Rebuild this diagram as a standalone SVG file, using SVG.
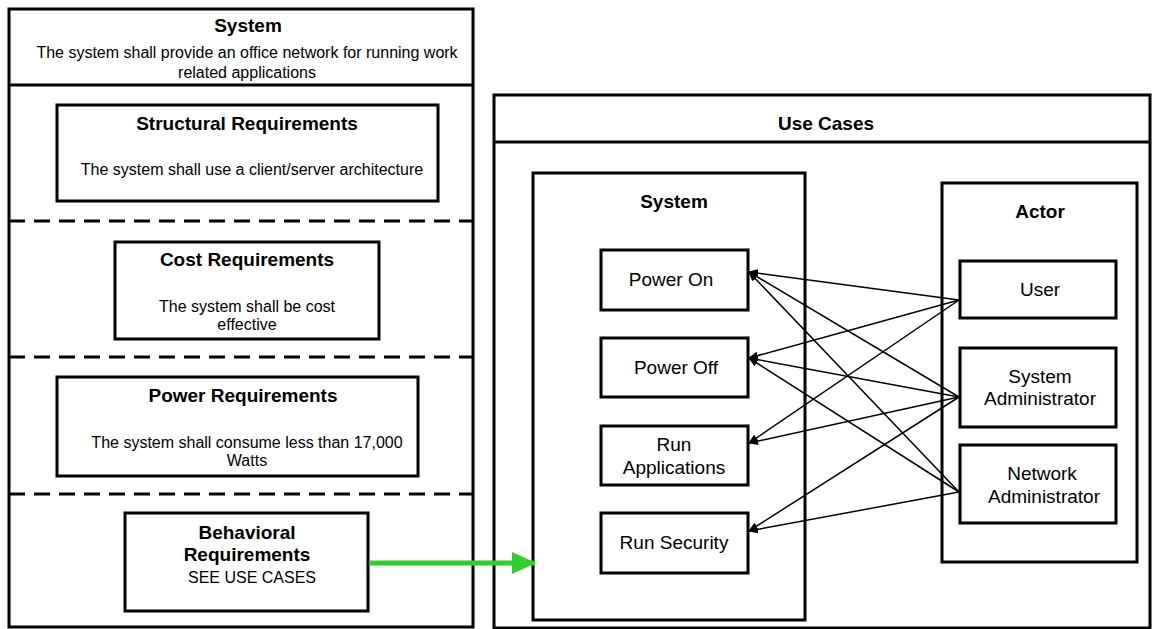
<svg xmlns="http://www.w3.org/2000/svg" width="1154" height="629" viewBox="0 0 1154 629">
<style>
.box{fill:#fff;stroke:#000;stroke-width:3}
.dash{stroke:#000;stroke-width:3;stroke-dasharray:16 9;fill:none}
.t{font-family:"Liberation Sans",Arial,sans-serif;font-weight:bold;font-size:19px;text-anchor:middle;fill:#000}
.b{font-family:"Liberation Sans",Arial,sans-serif;font-size:16px;text-anchor:middle;fill:#000}
.u{font-family:"Liberation Sans",Arial,sans-serif;font-size:19px;text-anchor:middle;fill:#000}
.c{stroke:#000;stroke-width:1.5;fill:none;marker-end:url(#ah)}
</style>
<defs>
<marker id="ah" markerWidth="10" markerHeight="8" refX="9" refY="4" orient="auto" markerUnits="userSpaceOnUse">
<path d="M0,0 L10,4 L0,8 z" fill="#000"/>
</marker>
<marker id="gh" markerWidth="24" markerHeight="22" refX="23" refY="11" orient="auto" markerUnits="userSpaceOnUse">
<path d="M0,0 L24,11 L0,22 z" fill="#33cc33"/>
</marker>
</defs>
<rect width="1154" height="629" fill="#fff"/>

<g id="left-panel">
<rect class="box" x="9" y="9" width="464" height="618"/>
<line x1="9" y1="85" x2="473" y2="85" stroke="#000" stroke-width="3"/>
<text class="t" x="248" y="32">System</text>
<text class="b" x="247" y="58">The system shall provide an office network for running work</text>
<text class="b" x="247" y="78">related applications</text>
<line class="dash" x1="9" y1="221" x2="473" y2="221"/>
<line class="dash" x1="9" y1="357" x2="473" y2="357"/>
<line class="dash" x1="9" y1="494" x2="473" y2="494"/>
</g>

<g id="structural">
<rect class="box" x="57" y="105" width="381" height="96"/>
<text class="t" x="247" y="130">Structural Requirements</text>
<text class="b" x="252" y="175">The system shall use a client/server architecture</text>
</g>

<g id="cost">
<rect class="box" x="115" y="242" width="264" height="97"/>
<text class="t" x="247" y="266">Cost Requirements</text>
<text class="b" x="247" y="312">The system shall be cost</text>
<text class="b" x="247" y="330">effective</text>
</g>

<g id="power">
<rect class="box" x="57" y="377" width="361" height="99"/>
<text class="t" x="243" y="402">Power Requirements</text>
<text class="b" x="247" y="448">The system shall consume less than 17,000</text>
<text class="b" x="247" y="466">Watts</text>
</g>

<g id="behavioral">
<rect class="box" x="125" y="513" width="243" height="98"/>
<text class="t" x="247" y="539">Behavioral</text>
<text class="t" x="247" y="561">Requirements</text>
<text class="b" x="252" y="583">SEE USE CASES</text>
</g>

<g id="use-cases">
<rect class="box" x="494" y="95" width="656" height="533"/>
<line x1="494" y1="142" x2="1150" y2="142" stroke="#000" stroke-width="3"/>
<text class="t" x="826" y="130">Use Cases</text>
</g>

<g id="system">
<rect class="box" x="533" y="173" width="272" height="447"/>
<text class="t" x="674" y="208">System</text>
</g>

<g id="power-on">
<rect class="box" x="601" y="250" width="147" height="60"/>
<text class="u" x="671" y="286">Power On</text>
</g>
<g id="power-off">
<rect class="box" x="601" y="338" width="147" height="59"/>
<text class="u" x="676" y="374">Power Off</text>
</g>
<g id="run-applications">
<rect class="box" x="601" y="426" width="147" height="59"/>
<text class="u" x="674" y="451">Run</text>
<text class="u" x="674" y="474">Applications</text>
</g>
<g id="run-security">
<rect class="box" x="601" y="513" width="147" height="60"/>
<text class="u" x="674" y="549">Run Security</text>
</g>

<g id="actor">
<rect class="box" x="942" y="183" width="195" height="379"/>
<text class="t" x="1040" y="218">Actor</text>
</g>
<g id="user">
<rect class="box" x="960" y="261" width="156" height="57"/>
<text class="u" x="1040" y="296">User</text>
</g>
<g id="system-administrator">
<rect class="box" x="960" y="348" width="156" height="79"/>
<text class="u" x="1040" y="383">System</text>
<text class="u" x="1040" y="405">Administrator</text>
</g>
<g id="network-administrator">
<rect class="box" x="960" y="445" width="156" height="78"/>
<text class="u" x="1042" y="480">Network</text>
<text class="u" x="1044" y="503">Administrator</text>
</g>

<g id="connectors">
<line class="c" x1="959" y1="300" x2="749" y2="272"/>
<line class="c" x1="959" y1="300" x2="749" y2="358"/>
<line class="c" x1="959" y1="300" x2="749" y2="443"/>
<line class="c" x1="959" y1="397" x2="749" y2="272"/>
<line class="c" x1="959" y1="397" x2="749" y2="358"/>
<line class="c" x1="959" y1="397" x2="749" y2="443"/>
<line class="c" x1="959" y1="397" x2="749" y2="531"/>
<line class="c" x1="959" y1="492" x2="749" y2="272"/>
<line class="c" x1="959" y1="492" x2="749" y2="358"/>
<line class="c" x1="959" y1="492" x2="749" y2="531"/>
<line x1="369" y1="563" x2="535" y2="563" stroke="#33cc33" stroke-width="5" marker-end="url(#gh)"/>
</g>
</svg>
